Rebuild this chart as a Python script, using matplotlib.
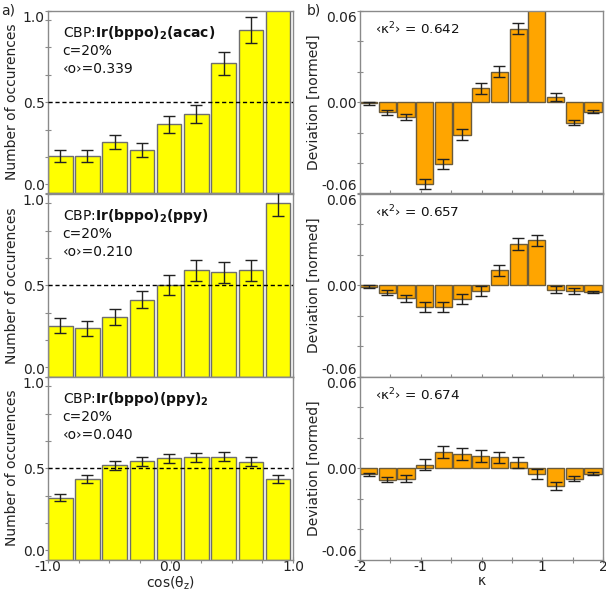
import numpy as np
import matplotlib
matplotlib.use("Agg")
import matplotlib.pyplot as plt
from matplotlib.ticker import MultipleLocator, FixedLocator

# ---------------- data ----------------
n_cos = 9
occ_acac = [0.205, 0.205, 0.283, 0.238, 0.380, 0.437, 0.713, 0.896, 1.10]
occ_acac_err = [0.035, 0.035, 0.040, 0.037, 0.046, 0.050, 0.065, 0.070, 0.070]
occ_ppy = [0.278, 0.264, 0.326, 0.421, 0.502, 0.582, 0.571, 0.582, 0.949]
occ_ppy_err = [0.041, 0.040, 0.044, 0.048, 0.053, 0.059, 0.057, 0.059, 0.070]
occ_ppy2 = [0.339, 0.443, 0.516, 0.538, 0.555, 0.560, 0.562, 0.535, 0.441]
occ_ppy2_err = [0.019, 0.022, 0.024, 0.024, 0.025, 0.026, 0.025, 0.024, 0.022]

n_kappa = 13
dev_acac = [-0.0007, -0.0065, -0.0098, -0.0539, -0.0408, -0.0214, 0.0092,
            0.0201, 0.0484, 0.068, 0.0035, -0.0135, -0.0061]
dev_acac_err = [0.001, 0.0017, 0.0022, 0.0032, 0.0033, 0.0035, 0.0036,
                0.0037, 0.0038, 0.004, 0.0025, 0.0017, 0.001]
dev_ppy = [-0.0009, -0.0048, -0.0086, -0.0140, -0.0143, -0.0090, -0.0035,
           0.0099, 0.0273, 0.0297, -0.0029, -0.0037, -0.0044]
dev_ppy_err = [0.0008, 0.0019, 0.0023, 0.0033, 0.0033, 0.0034, 0.0033,
               0.0035, 0.0038, 0.0036, 0.0022, 0.0020, 0.0009]
dev_ppy2 = [-0.0040, -0.0075, -0.0070, 0.0024, 0.0106, 0.0095, 0.0079,
            0.0073, 0.0038, -0.0038, -0.0115, -0.0068, -0.0035]
dev_ppy2_err = [0.0010, 0.0017, 0.0023, 0.0034, 0.0039, 0.0038, 0.0038,
                0.0037, 0.0038, 0.0034, 0.0025, 0.0017, 0.0010]

names = [r"CBP:$\mathbf{Ir(bppo)_2(acac)}$",
         r"CBP:$\mathbf{Ir(bppo)_2(ppy)}$",
         r"CBP:$\mathbf{Ir(bppo)(ppy)_2}$"]
conc = ["c=20%", "c=20%", "c=20%"]
order = ["‹o›=0.339", "‹o›=0.210", "‹o›=0.040"]
kappa2 = ["‹κ$^2$› = 0.642", "‹κ$^2$› = 0.657", "‹κ$^2$› = 0.674"]

occ_ticklabels = ["0.0", "0.5", "1.0"]
cos_ticklabels = ["-1.0", "0.0", "1.0"]
dev_ticklabels = ["-0.06", "0.00", "0.06"]
kappa_ticklabels = ["-2", "-1", "0", "1", "2"]

occ_all = [occ_acac, occ_ppy, occ_ppy2]
occ_err_all = [occ_acac_err, occ_ppy_err, occ_ppy2_err]
dev_all = [dev_acac, dev_ppy, dev_ppy2]
dev_err_all = [dev_acac_err, dev_ppy_err, dev_ppy2_err]

# ---------------- figure ----------------
plt.rcParams['font.family'] = ['DejaVu Sans']
plt.rcParams['font.size'] = 10
W, H = 606, 591
fig = plt.figure(figsize=(W / 100, H / 100), dpi=100)

spine_col = '#8a8a8a'
text_col = '#222222'

def rect(x0, top, w, h):
    return [x0 / W, 1 - (top + h) / H, w / W, h / H]

panel_tops = [11, 194, 377]
ph = 182.5

cos_w = 2.0 / n_cos
cos_left = -1.0 + cos_w * np.arange(n_cos)
k_w = 4.0 / n_kappa
k_left = -2.0 + k_w * np.arange(n_kappa)

def style_axes(ax):
    for s in ax.spines.values():
        s.set_color(spine_col)
        s.set_linewidth(1.0)
    ax.tick_params(which='both', colors=spine_col, labelcolor=text_col,
                   labelsize=10, length=4, width=0.8, direction='inout')
    ax.tick_params(axis='x', which='both', pad=-1.3)
    ax.tick_params(axis='y', which='both', pad=0.3)

for i in range(3):
    # left
    ax = fig.add_axes(rect(48, panel_tops[i], 245, ph))
    ax.bar(cos_left, occ_all[i], width=cos_w * 0.9, align='edge',
           color='#ffff00', edgecolor='#6e6e6e', linewidth=1.0, zorder=2)
    ax.errorbar(cos_left + cos_w * 0.45, occ_all[i], yerr=occ_err_all[i],
                fmt='none', ecolor='#222222', elinewidth=1.0, capsize=4,
                capthick=1.0, zorder=3)
    ax.axhline(0.5, color='black', ls='--', lw=1.0, dashes=(3, 2), zorder=4)
    ax.set_xlim(-1, 1)
    ax.set_ylim(0, 1.0)
    ax.yaxis.set_major_locator(FixedLocator([0.0, 0.5, 1.0]))
    ax.yaxis.set_minor_locator(FixedLocator([0.05, 0.2, 0.35, 0.65, 0.8, 0.95]))
    ax.set_yticklabels(occ_ticklabels)
    ax.xaxis.set_major_locator(FixedLocator([-1.0, 0.0, 1.0]))
    ax.xaxis.set_minor_locator(MultipleLocator(0.25))
    style_axes(ax)
    labs = ax.get_yticklabels()
    labs[0].set_va('bottom')
    labs[-1].set_va('top')
    if i < 2:
        ax.tick_params(axis='x', which='both', labelbottom=False)
    else:
        ax.set_xticklabels(cos_ticklabels)
        ax.set_xlabel("cos(θ$_\\mathrm{z}$)", fontsize=10, color=text_col)
        ax.xaxis.set_label_coords(0.5, -0.08)
    ax.set_ylabel("Number of occurences", fontsize=10, color=text_col)
    ax.yaxis.set_label_coords(-0.118, 0.5)
    ax.text(0.06, 0.88, names[i], transform=ax.transAxes, fontsize=10,
            color='#111111', va='center')
    ax.text(0.06, 0.78, conc[i], transform=ax.transAxes, fontsize=10,
            color='#111111', va='center')
    ax.text(0.06, 0.68, order[i], transform=ax.transAxes, fontsize=10,
            color='#111111', va='center')

    # right
    ax2 = fig.add_axes(rect(360, panel_tops[i], 243, ph))
    ax2.bar(k_left, dev_all[i], width=k_w * 0.92, align='edge',
            color='#ffa500', edgecolor='#6a5a3a', linewidth=1.0, zorder=2)
    ax2.errorbar(k_left + k_w * 0.46, dev_all[i], yerr=dev_err_all[i],
                 fmt='none', ecolor='#222222', elinewidth=1.0, capsize=4,
                 capthick=1.0, zorder=3)
    ax2.set_xlim(-2, 2)
    ax2.set_ylim(-0.06, 0.06)
    ax2.yaxis.set_major_locator(FixedLocator([-0.06, 0.0, 0.06]))
    ax2.yaxis.set_minor_locator(FixedLocator([-0.04, -0.02, 0.02, 0.04]))
    ax2.set_yticklabels(dev_ticklabels)
    ax2.xaxis.set_major_locator(FixedLocator([-2, -1, 0, 1, 2]))
    ax2.xaxis.set_minor_locator(MultipleLocator(0.5))
    style_axes(ax2)
    labs = ax2.get_yticklabels()
    labs[0].set_va('bottom')
    labs[-1].set_va('top')
    if i < 2:
        ax2.tick_params(axis='x', which='both', labelbottom=False)
    else:
        ax2.set_xticklabels(kappa_ticklabels)
        ax2.set_xlabel("κ", fontsize=10, color=text_col)
        ax2.xaxis.set_label_coords(0.5, -0.08)
    ax2.set_ylabel("Deviation [normed]", fontsize=10, color=text_col)
    ax2.yaxis.set_label_coords(-0.16, 0.5)
    ax2.text(0.06, 0.9, kappa2[i], transform=ax2.transAxes, fontsize=9.7,
             color='#111111', va='center')

fig.text(1 / W, 1 - 11 / H, "a)", fontsize=10, va='center', ha='left',
         color=text_col)
fig.text(307 / W, 1 - 11 / H, "b)", fontsize=10, va='center', ha='left',
         color=text_col)

fig.savefig("out.png", dpi=100, facecolor='white')
